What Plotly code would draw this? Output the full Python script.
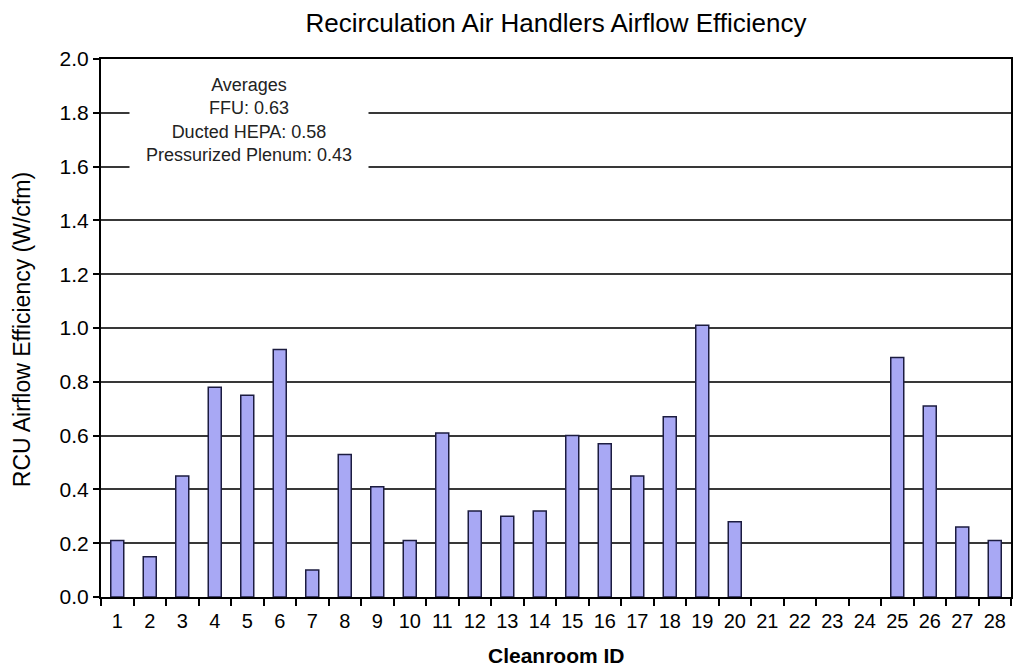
import plotly.graph_objects as go

cleanroom_ids = list(range(1, 29))
efficiency = [0.21, 0.15, 0.45, 0.78, 0.75, 0.92, 0.10, 0.53, 0.41, 0.21,
              0.61, 0.32, 0.30, 0.32, 0.60, 0.57, 0.45, 0.67, 1.01, 0.28,
              None, None, None, None, 0.89, 0.71, 0.26, 0.21]
y_ticks = [0.0, 0.2, 0.4, 0.6, 0.8, 1.0, 1.2, 1.4, 1.6, 1.8, 2.0]
averages_text = "Averages<br>FFU: 0.63<br>Ducted HEPA: 0.58<br>Pressurized Plenum: 0.43"

FONT = "Liberation Sans, Arial, sans-serif"

fig = go.Figure()
fig.add_trace(go.Bar(
    x=cleanroom_ids, y=efficiency, width=0.4,
    marker=dict(color="#A8A8F4", line=dict(color="#1c1c40", width=1.5)),
))

fig.update_layout(
    width=1014, height=669,
    margin=dict(l=101, r=1, t=59, b=72),
    paper_bgcolor="white", plot_bgcolor="white",
    showlegend=False,
    font=dict(family=FONT, color="black"),
    title=dict(text="Recirculation Air Handlers Airflow Efficiency",
               x=0.5, xref="paper", y=1 - 23 / 669, yanchor="middle",
               font=dict(size=26, color="black", family=FONT)),
    bargap=0.6,
)
fig.update_xaxes(
    range=[0.5, 28.5], tickmode="array", tickvals=cleanroom_ids,
    ticktext=[str(v) for v in cleanroom_ids],
    ticks="", tickfont=dict(size=20, color="black"), ticklabelstandoff=5,
    showline=True, linecolor="black", linewidth=2, mirror=True,
    showgrid=False, zeroline=False,
    minor=dict(ticks="outside", tickmode="linear", tick0=0.5, dtick=1,
               ticklen=7, tickwidth=2, tickcolor="black", showgrid=False),
)
fig.update_yaxes(
    range=[0, 2.0], tickmode="array", tickvals=y_ticks,
    ticktext=[f"{v:.1f}" for v in y_ticks],
    ticks="outside", ticklen=6, tickwidth=2, tickcolor="black",
    tickfont=dict(size=21, color="black"),
    showline=True, linecolor="black", linewidth=2, mirror=True,
    showgrid=True, gridcolor="#383838", gridwidth=2, zeroline=False,
)

fig.add_annotation(
    text=averages_text, xref="paper", yref="paper",
    x=(249 - 101) / 912, y=(597 - 120) / 538, xanchor="center", yanchor="middle",
    showarrow=False, align="center", bgcolor="white",
    width=236, height=102,
    font=dict(size=18, color="#222222", family=FONT),
)
fig.add_annotation(
    text="RCU Airflow Efficiency (W/cfm)", xref="paper", yref="paper",
    x=(22 - 101) / 912, y=(597 - 330) / 538, xanchor="center", yanchor="middle",
    textangle=-90, showarrow=False,
    font=dict(size=23, color="black", family=FONT),
)
fig.add_annotation(
    text="<b>Cleanroom ID</b>", xref="paper", yref="paper",
    x=0.5, y=-(655 - 597) / 538, xanchor="center", yanchor="middle",
    showarrow=False,
    font=dict(size=21, color="black", family=FONT),
)

fig.write_html("out.html", config={"displayModeBar": False},
               post_script="document.body.style.margin='0';document.body.style.overflow='hidden';")
